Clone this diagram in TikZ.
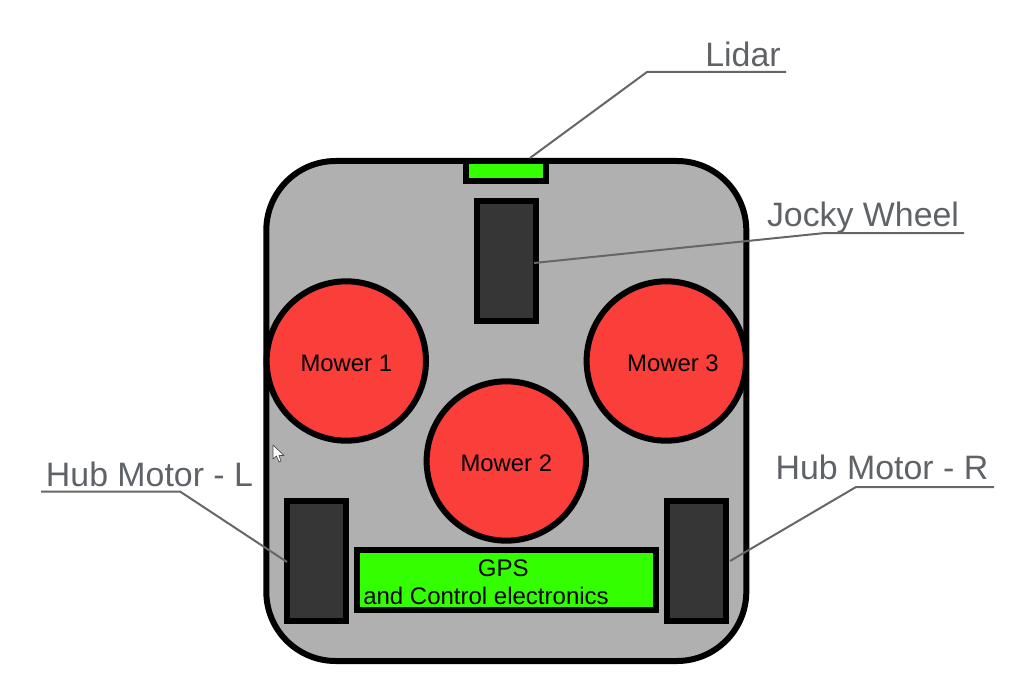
\documentclass[tikz,border=0pt]{standalone}
\usepackage{fontspec}
\setmainfont{Liberation Sans}
\definecolor{bodygray}{HTML}{B0B0B0}
\definecolor{darkpart}{HTML}{363636}
\definecolor{brightgreen}{HTML}{33FF00}
\definecolor{mowerred}{HTML}{FA3E3A}
\definecolor{leadergray}{HTML}{666666}
\definecolor{labelgray}{HTML}{5F6368}
\newcommand{\lowertext}[1]{\raisebox{-1.5pt}[\height][\depth]{#1}}
\tikzset{
  x=0.75pt,y=-0.75pt,
  part/.style={draw=black,line width=4.5pt,inner sep=0pt,outer sep=0pt,anchor=center},
  bodybox/.style={part,rectangle,rounded corners=52pt,fill=bodygray,minimum width=360pt,minimum height=375pt},
  motorbox/.style={part,rectangle,fill=darkpart,minimum width=44.5pt,minimum height=90pt},
  greenbox/.style={part,rectangle,fill=brightgreen},
  mower/.style={part,circle,fill=mowerred,minimum size=119.5pt,font=\fontsize{17.9pt}{21pt}\selectfont},
  calloutlabel/.style={font=\fontsize{25.4pt}{30pt}\selectfont,text=labelgray,inner sep=0pt,anchor=base},
  leader/.style={draw=leadergray,line width=1.5pt,line join=miter}
}
\begin{document}
\begin{tikzpicture}
\useasboundingbox (0,0) rectangle (1027,681);
\node[bodybox] (robot) at (506.3,411) {};
\node[greenbox,minimum width=60pt,minimum height=15pt] (lidarbox) at (506.3,171.2) {};
\node[motorbox] (jocky) at (506.3,261.3) {};
\node[mower] (m1) at (346.3,361) {\lowertext{Mower 1}};
\node[mower] (m3) at (666.3,361) {\hspace*{10pt}\lowertext{Mower 3}};
\node[mower] (m2) at (506.3,461) {\lowertext{Mower 2}};
\node[motorbox] (hubl) at (316.3,561.2) {};
\node[motorbox] (hubr) at (696.3,561.2) {};
\node[greenbox,minimum width=224.5pt,minimum height=45pt] (gps) at (506.3,580.2) {};
\node[inner sep=0pt,align=left,anchor=north west,font=\fontsize{18pt}{21pt}\selectfont] (gpstext) at (363,559)
  {\hspace*{86pt}GPS\\and Control electronics};
% label nodes
\node[calloutlabel] (lidarlabel) at (743,66.5) {Lidar};
\node[calloutlabel] (jockylabel) at (863,226) {Jocky Wheel};
\node[calloutlabel] (hubllabel) at (149.5,486) {Hub Motor - L};
\node[calloutlabel] (hubrlabel) at (882,479) {Hub Motor - R};
% leader coordinates
\coordinate (lidarA) at (530,158);
\coordinate (lidarB) at (647,72);
\coordinate (lidarC) at (786,72);
\coordinate (jockyA) at (534,263);
\coordinate (jockyB) at (825,233);
\coordinate (jockyC) at (964,233);
\coordinate (hublA) at (287,562);
\coordinate (hublB) at (180,491.5);
\coordinate (hublC) at (41,491.5);
\coordinate (hubrA) at (730,561);
\coordinate (hubrB) at (856,487);
\coordinate (hubrC) at (994,487);
\draw[leader] (lidarA) -- (lidarB) -- (lidarC);
\draw[leader] (jockyA) -- (jockyB) -- (jockyC);
\draw[leader] (hublA) -- (hublB) -- (hublC);
\draw[leader] (hubrA) -- (hubrB) -- (hubrC);
% mouse pointer
\draw[fill=white,draw=black!70,line width=0.5pt,line join=round]
  (273,445) -- (273,459) -- (276.5,456) -- (279,462) -- (281,461) -- (279,455.5) -- (284,455.5) -- cycle;
\end{tikzpicture}
\end{document}
